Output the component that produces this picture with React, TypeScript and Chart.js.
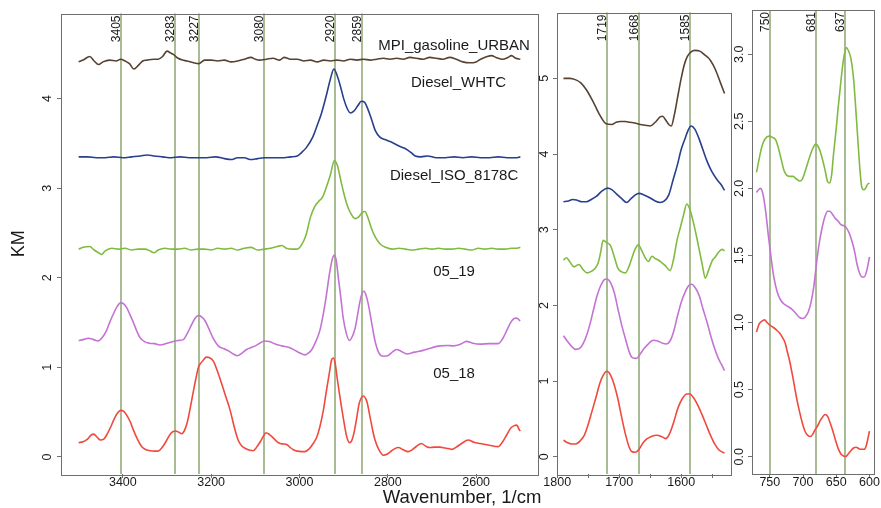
import React, { useEffect, useRef } from 'react';
import { Chart, registerables } from 'chart.js';

Chart.register(...registerables);

type Pt = [number, number];

// ---------- Panel A: 3500–2500 1/cm ----------
const highXTicks = [3400, 3200, 3000, 2800, 2600];
const highYTicks = [0, 1, 2, 3, 4];
const highMarks = [3405, 3283, 3227, 3080, 2920, 2859];

const mpiHigh: Pt[] = [
  [3500, 4.41], [3490, 4.43], [3475, 4.47], [3465, 4.42], [3455, 4.38], [3445, 4.41], [3430, 4.43], [3415, 4.42],
  [3405, 4.44], [3395, 4.42], [3385, 4.39], [3375, 4.33], [3365, 4.37], [3355, 4.42], [3345, 4.43], [3330, 4.44],
  [3320, 4.44], [3310, 4.47], [3300, 4.53], [3292, 4.51], [3285, 4.49], [3275, 4.45], [3265, 4.43], [3255, 4.42],
  [3240, 4.40], [3228, 4.39], [3215, 4.43], [3200, 4.43], [3185, 4.42], [3170, 4.43], [3155, 4.41], [3140, 4.42],
  [3125, 4.44], [3110, 4.46], [3100, 4.44], [3090, 4.43], [3075, 4.44], [3060, 4.45], [3045, 4.43], [3035, 4.46],
  [3020, 4.44], [3005, 4.44], [2990, 4.42], [2975, 4.43], [2960, 4.41], [2945, 4.43], [2930, 4.42], [2915, 4.43],
  [2900, 4.42], [2885, 4.44], [2870, 4.43], [2855, 4.44], [2840, 4.43], [2825, 4.44], [2810, 4.45], [2795, 4.44],
  [2780, 4.45], [2765, 4.44], [2750, 4.46], [2735, 4.45], [2720, 4.44], [2705, 4.46], [2690, 4.45], [2675, 4.44],
  [2660, 4.46], [2645, 4.44], [2630, 4.41], [2615, 4.40], [2600, 4.41], [2590, 4.44], [2575, 4.47], [2565, 4.48],
  [2555, 4.46], [2540, 4.44], [2528, 4.46], [2520, 4.48], [2510, 4.45], [2500, 4.44],
];

const whtcHigh: Pt[] = [
  [3500, 3.35], [3480, 3.35], [3460, 3.34], [3440, 3.34], [3420, 3.35], [3400, 3.34], [3380, 3.35], [3360, 3.36],
  [3345, 3.37], [3330, 3.36], [3310, 3.35], [3290, 3.34], [3270, 3.35], [3250, 3.34], [3230, 3.34], [3210, 3.34],
  [3190, 3.35], [3170, 3.33], [3155, 3.32], [3140, 3.34], [3125, 3.34], [3110, 3.32], [3095, 3.33], [3080, 3.34],
  [3060, 3.34], [3040, 3.34], [3020, 3.35], [3005, 3.36], [2995, 3.40], [2985, 3.45], [2970, 3.57], [2960, 3.70],
  [2950, 3.84], [2940, 4.02], [2930, 4.22], [2922, 4.33], [2915, 4.26], [2908, 4.15], [2900, 4.00], [2892, 3.89],
  [2885, 3.84], [2877, 3.86], [2868, 3.92], [2860, 3.97], [2853, 3.96], [2845, 3.88], [2837, 3.77], [2828, 3.64],
  [2818, 3.57], [2805, 3.54], [2790, 3.51], [2775, 3.47], [2760, 3.44], [2748, 3.40], [2738, 3.36], [2725, 3.35],
  [2710, 3.36], [2690, 3.34], [2670, 3.34], [2650, 3.35], [2630, 3.34], [2610, 3.35], [2590, 3.34], [2570, 3.34],
  [2550, 3.35], [2530, 3.34], [2510, 3.34], [2500, 3.35],
];

const isoHigh: Pt[] = [
  [3500, 2.32], [3490, 2.34], [3475, 2.35], [3465, 2.31], [3455, 2.28], [3448, 2.26], [3440, 2.30], [3425, 2.33],
  [3410, 2.32], [3395, 2.33], [3380, 2.31], [3365, 2.32], [3350, 2.32], [3338, 2.30], [3330, 2.28], [3320, 2.31],
  [3305, 2.33], [3290, 2.32], [3275, 2.32], [3260, 2.33], [3245, 2.31], [3230, 2.32], [3215, 2.32], [3200, 2.31],
  [3185, 2.33], [3170, 2.32], [3155, 2.33], [3140, 2.31], [3125, 2.33], [3110, 2.34], [3095, 2.31], [3080, 2.32],
  [3065, 2.33], [3050, 2.35], [3040, 2.36], [3030, 2.33], [3015, 2.32], [3005, 2.32], [2995, 2.37], [2985, 2.48],
  [2975, 2.68], [2965, 2.80], [2957, 2.85], [2948, 2.90], [2940, 3.00], [2930, 3.15], [2921, 3.31], [2914, 3.25],
  [2907, 3.10], [2900, 2.95], [2892, 2.81], [2883, 2.71], [2874, 2.66], [2866, 2.68], [2858, 2.73], [2852, 2.74],
  [2845, 2.67], [2837, 2.55], [2828, 2.45], [2818, 2.38], [2805, 2.34], [2790, 2.32], [2775, 2.33], [2760, 2.32],
  [2745, 2.31], [2730, 2.32], [2715, 2.33], [2700, 2.32], [2685, 2.33], [2670, 2.32], [2655, 2.32], [2640, 2.33],
  [2625, 2.32], [2610, 2.31], [2595, 2.33], [2580, 2.32], [2565, 2.33], [2550, 2.32], [2535, 2.32], [2520, 2.33],
  [2510, 2.33], [2500, 2.34],
];

const s0519High: Pt[] = [
  [3500, 1.30], [3490, 1.31], [3478, 1.325], [3466, 1.31], [3456, 1.295], [3447, 1.33], [3437, 1.41], [3430, 1.50],
  [3422, 1.59], [3414, 1.67], [3405, 1.72], [3398, 1.71], [3391, 1.665], [3384, 1.59], [3376, 1.50], [3368, 1.40],
  [3361, 1.33], [3350, 1.285], [3340, 1.27], [3328, 1.265], [3316, 1.25], [3300, 1.27], [3286, 1.29], [3275, 1.30],
  [3263, 1.31], [3254, 1.38], [3244, 1.48], [3236, 1.55], [3228, 1.58], [3221, 1.56], [3214, 1.52], [3205, 1.43],
  [3195, 1.32], [3184, 1.24], [3172, 1.21], [3161, 1.185], [3150, 1.15], [3141, 1.13], [3130, 1.16], [3120, 1.20],
  [3110, 1.22], [3100, 1.24], [3090, 1.27], [3080, 1.295], [3068, 1.29], [3055, 1.26], [3040, 1.24], [3022, 1.22],
  [3010, 1.19], [2999, 1.16], [2988, 1.14], [2980, 1.16], [2972, 1.20], [2963, 1.29], [2954, 1.41], [2946, 1.60],
  [2939, 1.81], [2932, 2.05], [2925, 2.22], [2921, 2.255], [2917, 2.20], [2912, 2.00], [2906, 1.76], [2901, 1.55],
  [2894, 1.38], [2887, 1.30], [2880, 1.35], [2874, 1.44], [2868, 1.60], [2863, 1.74], [2858, 1.83], [2854, 1.85],
  [2849, 1.80], [2844, 1.70], [2836, 1.48], [2829, 1.295], [2820, 1.16], [2810, 1.125], [2800, 1.13], [2790, 1.17],
  [2780, 1.20], [2770, 1.18], [2757, 1.15], [2740, 1.17], [2720, 1.19], [2700, 1.22], [2682, 1.24], [2665, 1.245],
  [2652, 1.24], [2635, 1.26], [2622, 1.29], [2608, 1.27], [2591, 1.26], [2570, 1.265], [2550, 1.265], [2540, 1.32],
  [2531, 1.41], [2522, 1.50], [2514, 1.545], [2508, 1.55], [2502, 1.525], [2500, 1.52],
];

const s0518High: Pt[] = [
  [3500, 0.16], [3490, 0.17], [3480, 0.20], [3472, 0.245], [3466, 0.255], [3458, 0.22], [3451, 0.19], [3443, 0.20],
  [3435, 0.26], [3427, 0.34], [3420, 0.42], [3412, 0.49], [3405, 0.52], [3398, 0.51], [3391, 0.465], [3383, 0.39],
  [3376, 0.30], [3367, 0.20], [3357, 0.115], [3347, 0.08], [3338, 0.07], [3328, 0.065], [3320, 0.065], [3312, 0.10],
  [3305, 0.15], [3298, 0.21], [3292, 0.26], [3286, 0.285], [3280, 0.29], [3273, 0.275], [3267, 0.26], [3261, 0.29],
  [3255, 0.37], [3248, 0.53], [3240, 0.74], [3234, 0.89], [3229, 1.00], [3223, 1.05], [3218, 1.08], [3211, 1.115],
  [3205, 1.11], [3195, 1.07], [3186, 0.96], [3176, 0.815], [3166, 0.66], [3157, 0.52], [3148, 0.34], [3139, 0.19],
  [3130, 0.12], [3120, 0.09], [3112, 0.075], [3105, 0.07], [3097, 0.11], [3089, 0.17], [3082, 0.23], [3076, 0.27],
  [3068, 0.25], [3059, 0.21], [3051, 0.17], [3044, 0.15], [3036, 0.145], [3029, 0.14], [3022, 0.11], [3014, 0.08],
  [3005, 0.065], [2995, 0.06], [2988, 0.06], [2978, 0.09], [2969, 0.15], [2961, 0.22], [2954, 0.335], [2946, 0.52],
  [2939, 0.74], [2932, 0.95], [2927, 1.09], [2923, 1.105], [2919, 1.04], [2915, 0.89], [2910, 0.72], [2905, 0.56],
  [2899, 0.38], [2893, 0.225], [2887, 0.16], [2882, 0.18], [2877, 0.26], [2871, 0.42], [2865, 0.595], [2860, 0.66],
  [2856, 0.68], [2851, 0.66], [2847, 0.61], [2840, 0.44], [2834, 0.29], [2829, 0.19], [2820, 0.08], [2810, 0.02],
  [2802, 0.03], [2795, 0.055], [2785, 0.09], [2776, 0.105], [2765, 0.08], [2754, 0.06], [2745, 0.08], [2735, 0.12],
  [2724, 0.15], [2714, 0.12], [2705, 0.105], [2695, 0.11], [2682, 0.11], [2670, 0.10], [2655, 0.085], [2645, 0.11],
  [2633, 0.15], [2618, 0.19], [2605, 0.165], [2591, 0.15], [2570, 0.13], [2550, 0.115], [2540, 0.17], [2531, 0.245],
  [2522, 0.32], [2514, 0.35], [2508, 0.355], [2502, 0.30], [2500, 0.29],
];

const seriesNames = ['MPI_gasoline_URBAN', 'Diesel_WHTC', 'Diesel_ISO_8178C', '05_19', '05_18'];
const seriesNameX = [2650, 2640, 2650, 2650, 2650];
const seriesNameY = [4.59, 4.175, 3.14, 2.063, 0.927];

// ---------- Panel B: 1790–1530 1/cm ----------
const midXTicks = [1800, 1750, 1700, 1650, 1600, 1550];
const midXLabels = [1800, 1700, 1600];
const midYTicks = [0, 1, 2, 3, 4, 5];
const midMarks = [1719, 1668, 1585];

const mpiMid: Pt[] = [
  [1790, 5.00], [1780, 5.00], [1770, 4.98], [1762, 4.94], [1753, 4.85], [1742, 4.69], [1731, 4.51], [1721, 4.40],
  [1712, 4.39], [1705, 4.42], [1698, 4.43], [1690, 4.43], [1683, 4.42], [1675, 4.41], [1666, 4.39], [1658, 4.38],
  [1650, 4.37], [1642, 4.42], [1634, 4.49], [1630, 4.50], [1625, 4.45], [1620, 4.39], [1616, 4.37], [1611, 4.52],
  [1606, 4.74], [1600, 5.00], [1595, 5.18], [1590, 5.29], [1584, 5.35], [1578, 5.37], [1570, 5.36], [1562, 5.31],
  [1553, 5.24], [1545, 5.12], [1537, 4.95], [1530, 4.80],
];

const whtcMid: Pt[] = [
  [1790, 3.37], [1782, 3.38], [1775, 3.40], [1768, 3.39], [1760, 3.37], [1753, 3.37], [1745, 3.40], [1737, 3.44],
  [1728, 3.51], [1719, 3.55], [1712, 3.53], [1704, 3.47], [1696, 3.41], [1688, 3.36], [1681, 3.41], [1674, 3.46],
  [1668, 3.48], [1660, 3.46], [1650, 3.42], [1642, 3.38], [1634, 3.36], [1627, 3.38], [1620, 3.46], [1613, 3.66],
  [1606, 3.86], [1600, 4.06], [1594, 4.20], [1589, 4.31], [1584, 4.37], [1578, 4.33], [1572, 4.22], [1565, 4.06],
  [1558, 3.90], [1550, 3.76], [1542, 3.66], [1536, 3.60], [1530, 3.52],
];

const isoMid: Pt[] = [
  [1790, 2.60], [1785, 2.63], [1780, 2.58], [1773, 2.51], [1765, 2.54], [1758, 2.47], [1752, 2.43], [1745, 2.45],
  [1740, 2.48], [1734, 2.56], [1730, 2.70], [1726, 2.86], [1720, 2.83], [1714, 2.79], [1709, 2.67], [1702, 2.49],
  [1695, 2.44], [1690, 2.43], [1684, 2.52], [1679, 2.64], [1674, 2.75], [1669, 2.80], [1664, 2.73], [1658, 2.63],
  [1653, 2.58], [1647, 2.65], [1642, 2.62], [1637, 2.60], [1632, 2.57], [1626, 2.53], [1618, 2.46], [1612, 2.62],
  [1607, 2.85], [1601, 3.04], [1596, 3.20], [1591, 3.34], [1586, 3.27], [1581, 3.12], [1576, 2.94], [1571, 2.74],
  [1566, 2.54], [1561, 2.36], [1556, 2.46], [1550, 2.59], [1545, 2.64], [1540, 2.70], [1534, 2.74], [1530, 2.72],
];

const s0519Mid: Pt[] = [
  [1790, 1.60], [1783, 1.52], [1777, 1.46], [1770, 1.42], [1763, 1.44], [1758, 1.50], [1752, 1.62], [1747, 1.76],
  [1741, 1.96], [1736, 2.12], [1730, 2.26], [1724, 2.34], [1720, 2.35], [1714, 2.30], [1708, 2.17], [1702, 1.95],
  [1696, 1.74], [1690, 1.56], [1684, 1.39], [1679, 1.31], [1672, 1.30], [1666, 1.36], [1660, 1.43], [1652, 1.50],
  [1645, 1.54], [1638, 1.53], [1630, 1.50], [1624, 1.49], [1618, 1.53], [1612, 1.66], [1606, 1.86], [1600, 2.04],
  [1594, 2.17], [1588, 2.26], [1583, 2.28], [1577, 2.23], [1571, 2.13], [1565, 1.96], [1558, 1.77], [1552, 1.59],
  [1546, 1.43], [1540, 1.30], [1535, 1.22], [1530, 1.14],
];

const s0518Mid: Pt[] = [
  [1790, 0.22], [1784, 0.19], [1777, 0.17], [1770, 0.17], [1763, 0.21], [1756, 0.29], [1750, 0.43], [1744, 0.60],
  [1737, 0.80], [1731, 0.98], [1725, 1.09], [1720, 1.13], [1714, 1.08], [1708, 0.95], [1702, 0.76], [1696, 0.52],
  [1690, 0.30], [1684, 0.13], [1680, 0.07], [1674, 0.06], [1668, 0.10], [1662, 0.18], [1655, 0.24], [1648, 0.27],
  [1640, 0.285], [1632, 0.27], [1625, 0.24], [1619, 0.30], [1612, 0.46], [1605, 0.65], [1598, 0.77], [1591, 0.83],
  [1586, 0.83], [1580, 0.78], [1573, 0.68], [1566, 0.55], [1560, 0.43], [1553, 0.29], [1546, 0.17], [1539, 0.09],
  [1533, 0.06], [1530, 0.05],
];

// ---------- Panel C: 770–600 1/cm ----------
const lowXTicks = [750, 700, 650, 600];
const lowYTicks = [0, 0.5, 1, 1.5, 2, 2.5, 3];
const lowMarks = [750, 681, 637];

const isoLow: Pt[] = [
  [770, 2.12], [766, 2.22], [762, 2.31], [757, 2.37], [751, 2.39], [746, 2.38], [741, 2.36], [737, 2.30],
  [733, 2.22], [729, 2.14], [725, 2.10], [720, 2.09], [715, 2.09], [710, 2.07], [705, 2.055], [701, 2.07],
  [696, 2.14], [691, 2.22], [686, 2.29], [681, 2.33], [676, 2.30], [672, 2.24], [667, 2.14], [663, 2.05],
  [660, 2.04], [657, 2.10], [654, 2.26], [650, 2.45], [647, 2.61], [643, 2.80], [640, 2.93], [637, 3.02],
  [635, 3.05], [632, 3.03], [628, 2.97], [624, 2.82], [621, 2.62], [618, 2.40], [615, 2.18], [612, 2.02],
  [609, 1.99], [606, 2.00], [603, 2.03], [600, 2.04],
];

const s0519Low: Pt[] = [
  [770, 1.97], [767, 1.99], [764, 2.00], [760, 1.95], [756, 1.82], [752, 1.64], [748, 1.48], [744, 1.34],
  [739, 1.23], [734, 1.17], [729, 1.14], [723, 1.12], [717, 1.10], [711, 1.07], [706, 1.04], [701, 1.03],
  [697, 1.04], [692, 1.08], [688, 1.15], [684, 1.26], [680, 1.43], [676, 1.58], [672, 1.69], [667, 1.79],
  [663, 1.83], [660, 1.83], [656, 1.81], [652, 1.78], [647, 1.755], [643, 1.73], [638, 1.72], [634, 1.70],
  [630, 1.66], [626, 1.60], [622, 1.52], [619, 1.44], [615, 1.37], [611, 1.34], [608, 1.34], [604, 1.39],
  [600, 1.49],
];

const s0518Low: Pt[] = [
  [770, 0.93], [766, 0.99], [762, 1.01], [758, 1.02], [754, 1.00], [750, 0.98], [745, 0.965], [740, 0.945],
  [735, 0.92], [731, 0.89], [727, 0.85], [724, 0.79], [720, 0.71], [716, 0.61], [712, 0.50], [709, 0.42],
  [705, 0.33], [701, 0.25], [697, 0.19], [693, 0.16], [689, 0.15], [685, 0.17], [682, 0.20], [678, 0.23],
  [674, 0.27], [670, 0.30], [667, 0.315], [663, 0.30], [659, 0.25], [655, 0.19], [651, 0.12], [647, 0.06],
  [643, 0.02], [639, 0.005], [636, 0.0], [632, 0.02], [628, 0.045], [624, 0.065], [620, 0.07], [616, 0.06],
  [612, 0.055], [608, 0.055], [605, 0.08], [603, 0.12], [600, 0.19],
];

// ---------- styles ----------
const FONT = '"Liberation Sans", Arial, Helvetica, sans-serif';
const INK = '#1a1a1a';
const FRAME = '#6e6e6e';
const MARK = '#84a066';
const C_MPI = '#574232';
const C_WHTC = '#273f8e';
const C_ISO = '#80bb40';
const C_0519 = '#c374d3';
const C_0518 = '#f0493d';

function ds(pts: Pt[], color: string) {
  return {
    data: pts.map(([x, y]) => ({ x, y })),
    borderColor: color,
    backgroundColor: color,
    borderWidth: 1.6,
    pointRadius: 0,
    fill: false,
    cubicInterpolationMode: 'monotone' as const,
  };
}

const framePlugin = {
  id: 'frame',
  afterDraw(chart: any) {
    const { ctx, chartArea: a } = chart;
    ctx.save();
    ctx.strokeStyle = FRAME;
    ctx.lineWidth = 1;
    ctx.strokeRect(Math.round(a.left) + 0.5, Math.round(a.top) + 0.5, Math.round(a.right - a.left), Math.round(a.bottom - a.top));
    ctx.restore();
  },
};

function marksPlugin(values: number[]) {
  return {
    id: 'marks',
    beforeDatasetsDraw(chart: any) {
      const { ctx, chartArea: a, scales } = chart;
      const x = scales.x;
      ctx.save();
      for (const v of values) {
        const px = Math.round(x.getPixelForValue(v));
        ctx.strokeStyle = MARK;
        ctx.lineWidth = 1.4;
        ctx.beginPath();
        ctx.moveTo(px, a.top);
        ctx.lineTo(px, a.bottom);
        ctx.stroke();
        ctx.save();
        ctx.translate(px - 1.5, a.top + 2);
        ctx.rotate(-Math.PI / 2);
        ctx.font = `12px ${FONT}`;
        ctx.fillStyle = INK;
        ctx.textAlign = 'right';
        ctx.textBaseline = 'alphabetic';
        ctx.fillText(String(v), 0, 0);
        ctx.restore();
      }
      ctx.restore();
    },
  };
}

function namesPlugin(names: string[], xs: number[], ys: number[]) {
  return {
    id: 'names',
    afterDatasetsDraw(chart: any) {
      const { ctx, scales } = chart;
      ctx.save();
      ctx.font = `15px ${FONT}`;
      ctx.fillStyle = INK;
      ctx.textAlign = 'center';
      ctx.textBaseline = 'middle';
      names.forEach((n, i) => {
        ctx.fillText(n, scales.x.getPixelForValue(xs[i]), scales.y.getPixelForValue(ys[i]));
      });
      ctx.restore();
    },
  };
}

function xAxis(min: number, max: number, ticks: number[], shown: number[]) {
  return {
    type: 'linear' as const,
    reverse: true,
    min,
    max,
    afterBuildTicks: (s: any) => {
      s.ticks = ticks.map((v) => ({ value: v }));
    },
    afterFit: (s: any) => {
      s.height = 34;
    },
    grid: { display: true, drawOnChartArea: false, drawTicks: true, tickLength: 4, color: FRAME, lineWidth: 1 },
    border: { display: false },
    ticks: {
      autoSkip: false,
      maxRotation: 0,
      minRotation: 0,
      padding: -2.5,
      color: INK,
      font: { family: FONT, size: 12.5 },
      callback: (v: any) => (shown.includes(Number(v)) ? String(v) : ''),
    },
  };
}

function yAxis(min: number, max: number, ticks: number[], width: number, pad: number, digits: number, title?: string) {
  return {
    type: 'linear' as const,
    min,
    max,
    afterBuildTicks: (s: any) => {
      s.ticks = ticks.map((v) => ({ value: v }));
    },
    afterFit: (s: any) => {
      s.width = width;
    },
    grid: { display: true, drawOnChartArea: false, drawTicks: true, tickLength: 4, color: FRAME, lineWidth: 1 },
    border: { display: false },
    ticks: {
      autoSkip: false,
      minRotation: 90,
      maxRotation: 90,
      crossAlign: 'center' as const,
      padding: pad,
      color: INK,
      font: { family: FONT, size: 12.5 },
      callback: (v: any) => Number(v).toFixed(digits),
    },
    title: title
      ? { display: true, text: title, color: INK, font: { family: FONT, size: 18 }, padding: { top: 8, bottom: 0 } }
      : { display: false },
  };
}

function config(datasets: any[], x: any, y: any, padRight: number, plugins: any[]) {
  return {
    type: 'line' as const,
    data: { datasets },
    options: {
      animation: false as const,
      responsive: false,
      maintainAspectRatio: false,
      events: [] as any[],
      layout: { padding: { left: 0, top: 10, right: padRight, bottom: 0 } },
      scales: { x, y },
      plugins: { legend: { display: false }, tooltip: { enabled: false } },
    },
    plugins: [framePlugin, ...plugins],
  };
}

export default function App() {
  const r1 = useRef<HTMLCanvasElement>(null);
  const r2 = useRef<HTMLCanvasElement>(null);
  const r3 = useRef<HTMLCanvasElement>(null);

  useEffect(() => {
    const charts = [
      new Chart(
        r1.current!,
        config(
          [ds(mpiHigh, C_MPI), ds(whtcHigh, C_WHTC), ds(isoHigh, C_ISO), ds(s0519High, C_0519), ds(s0518High, C_0518)],
          xAxis(2460, 3540, highXTicks, highXTicks),
          yAxis(-0.19, 4.95, highYTicks, 61, 6, 0, 'KM'),
          3,
          [marksPlugin(highMarks), namesPlugin(seriesNames, seriesNameX, seriesNameY)]
        ) as any
      ),
      new Chart(
        r2.current!,
        config(
          [ds(mpiMid, C_MPI), ds(whtcMid, C_WHTC), ds(isoMid, C_ISO), ds(s0519Mid, C_0519), ds(s0518Mid, C_0518)],
          xAxis(1519.6, 1800.4, midXTicks, midXLabels),
          yAxis(-0.227, 5.87, midYTicks, 19, 5, 0),
          4,
          [marksPlugin(midMarks)]
        ) as any
      ),
      new Chart(
        r3.current!,
        config(
          [ds(isoLow, C_ISO), ds(s0519Low, C_0519), ds(s0518Low, C_0518)],
          xAxis(593.2, 776.8, lowXTicks, lowXTicks),
          yAxis(-0.129, 3.33, lowYTicks, 20, 0, 1),
          7,
          [marksPlugin(lowMarks)]
        ) as any
      ),
    ];
    return () => charts.forEach((c) => c.destroy());
  }, []);

  return (
    <div style={{ position: 'fixed', left: 0, top: 0, width: 881, height: 508, background: '#fff', overflow: 'hidden' }}>
      <canvas ref={r1} width={541} height={508} style={{ position: 'absolute', left: 0, top: 0, width: 541, height: 508 }} />
      <canvas ref={r2} width={197} height={508} style={{ position: 'absolute', left: 538, top: 0, width: 197, height: 508 }} />
      <canvas ref={r3} width={149} height={508} style={{ position: 'absolute', left: 732, top: 0, width: 149, height: 508 }} />
      <div
        style={{
          position: 'absolute',
          left: 362,
          top: 486,
          width: 200,
          textAlign: 'center',
          fontFamily: FONT,
          fontSize: '18.5px',
          lineHeight: '21px',
          color: INK,
          whiteSpace: 'nowrap',
        }}
      >
        Wavenumber, 1/cm
      </div>
    </div>
  );
}
